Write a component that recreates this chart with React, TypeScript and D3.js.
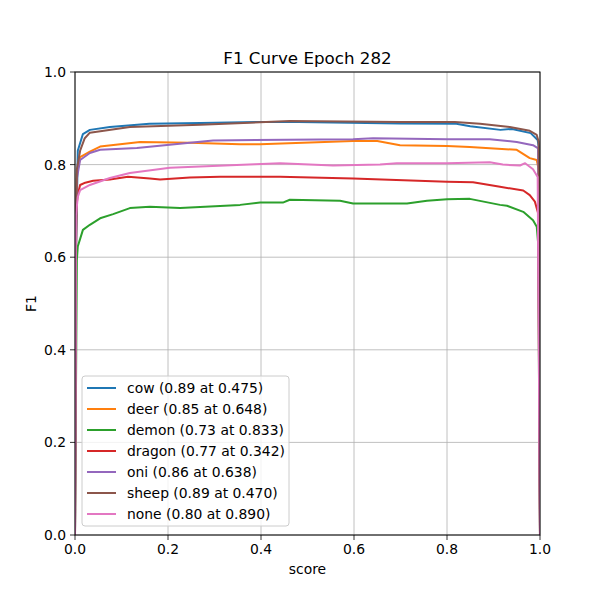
import React from "react";
import * as d3 from "d3";

// [score, F1] points
const cow: [number, number][] = [
  [0, 0], [0.002, 0.6], [0.006, 0.83], [0.017, 0.866], [0.032, 0.875], [0.075, 0.881],
  [0.16, 0.888], [0.27, 0.89], [0.4, 0.892], [0.48, 0.892], [0.7, 0.889], [0.82, 0.888],
  [0.85, 0.883], [0.915, 0.875], [0.94, 0.877], [0.98, 0.868], [0.995, 0.853], [0.997, 0.84], [1, 0],
];
const deer: [number, number][] = [
  [0, 0], [0.002, 0.6], [0.004, 0.78], [0.011, 0.816], [0.032, 0.828], [0.054, 0.839],
  [0.14, 0.849], [0.247, 0.847], [0.355, 0.844], [0.398, 0.844], [0.598, 0.851], [0.65, 0.851],
  [0.699, 0.842], [0.8, 0.84], [0.849, 0.838], [0.95, 0.832], [0.978, 0.814], [0.993, 0.81],
  [0.997, 0.79], [1, 0],
];
const demon: [number, number][] = [
  [0, 0], [0.004, 0.594], [0.006, 0.623], [0.017, 0.659], [0.032, 0.67], [0.054, 0.684],
  [0.082, 0.693], [0.118, 0.706], [0.161, 0.709], [0.226, 0.706], [0.355, 0.713], [0.398, 0.718],
  [0.447, 0.718], [0.462, 0.724], [0.57, 0.722], [0.598, 0.716], [0.714, 0.716], [0.757, 0.722],
  [0.8, 0.725], [0.849, 0.726], [0.914, 0.713], [0.929, 0.711], [0.964, 0.698], [0.985, 0.68],
  [0.993, 0.666], [0.996, 0.63], [1, 0],
];
const dragon: [number, number][] = [
  [0, 0], [0.002, 0.7], [0.006, 0.735], [0.011, 0.756], [0.022, 0.761], [0.039, 0.765],
  [0.075, 0.768], [0.114, 0.774], [0.161, 0.77], [0.183, 0.768], [0.247, 0.772], [0.312, 0.774],
  [0.441, 0.774], [0.598, 0.77], [0.8, 0.763], [0.856, 0.762], [0.914, 0.752], [0.964, 0.744],
  [0.978, 0.734], [0.989, 0.72], [0.996, 0.695], [1, 0],
];
const oni: [number, number][] = [
  [0, 0], [0.002, 0.6], [0.004, 0.77], [0.011, 0.81], [0.032, 0.825], [0.054, 0.832],
  [0.133, 0.836], [0.247, 0.847], [0.297, 0.852], [0.598, 0.855], [0.641, 0.857], [0.8, 0.855],
  [0.892, 0.855], [0.95, 0.849], [0.985, 0.842], [0.996, 0.835], [1, 0],
];
const sheep: [number, number][] = [
  [0, 0], [0.002, 0.6], [0.004, 0.79], [0.011, 0.83], [0.021, 0.857], [0.032, 0.869],
  [0.118, 0.881], [0.269, 0.886], [0.462, 0.894], [0.699, 0.892], [0.817, 0.892], [0.871, 0.888],
  [0.935, 0.881], [0.978, 0.873], [0.993, 0.864], [0.997, 0.85], [1, 0],
];
const none: [number, number][] = [
  [0, 0], [0.002, 0.69], [0.006, 0.73], [0.011, 0.745], [0.032, 0.756], [0.075, 0.771],
  [0.118, 0.782], [0.204, 0.793], [0.387, 0.801], [0.441, 0.803], [0.555, 0.798], [0.656, 0.8],
  [0.692, 0.803], [0.8, 0.803], [0.892, 0.805], [0.92, 0.8], [0.957, 0.798], [0.968, 0.803],
  [0.985, 0.79], [0.995, 0.773], [1, 0],
];

const seriesNames = ["cow", "deer", "demon", "dragon", "oni", "sheep", "none"];
const seriesData = [cow, deer, demon, dragon, oni, sheep, none];
const legendLabels = [
  "cow (0.89 at 0.475)",
  "deer (0.85 at 0.648)",
  "demon (0.73 at 0.833)",
  "dragon (0.77 at 0.342)",
  "oni (0.86 at 0.638)",
  "sheep (0.89 at 0.470)",
  "none (0.80 at 0.890)",
];
const colors = ["#1f77b4", "#ff7f0e", "#2ca02c", "#d62728", "#9467bd", "#8c564b", "#e377c2"];
const ticks = [0, 0.2, 0.4, 0.6, 0.8, 1.0];

const margin = { left: 75, right: 60, top: 72, bottom: 65 };
const W = 600;
const H = 600;

export default function App() {
  const x = d3.scaleLinear().domain([0, 1]).range([margin.left, W - margin.right]);
  const y = d3.scaleLinear().domain([0, 1]).range([H - margin.bottom, margin.top]);
  const line = d3
    .line<[number, number]>()
    .x((d) => x(d[0]))
    .y((d) => y(d[1]));

  const font = "DejaVu Sans, sans-serif";
  const legX = 82;
  const legY = 376;

  return (
    <div style={{ position: "absolute", left: 0, top: 0 }}>
      <svg width={W} height={H} style={{ display: "block", background: "#fff" }} fontFamily={font}>
        {/* grid */}
        {ticks.map((t) => (
          <g key={"g" + t}>
            <line x1={x(t)} x2={x(t)} y1={y(0)} y2={y(1)} stroke="#b0b0b0" strokeWidth={0.8} />
            <line x1={x(0)} x2={x(1)} y1={y(t)} y2={y(t)} stroke="#b0b0b0" strokeWidth={0.8} />
          </g>
        ))}
        {/* curves */}
        <g clipPath="url(#clip)">
          {seriesData.map((d, i) => (
            <path key={seriesNames[i]} d={line(d) || ""} fill="none" stroke={colors[i]} strokeWidth={2}
              strokeLinejoin="round" strokeLinecap="butt" />
          ))}
        </g>
        <defs>
          <clipPath id="clip">
            <rect x={x(0)} y={y(1)} width={x(1) - x(0)} height={y(0) - y(1)} />
          </clipPath>
        </defs>
        {/* spines */}
        <rect x={x(0)} y={y(1)} width={x(1) - x(0)} height={y(0) - y(1)} fill="none" stroke="#000" strokeWidth={1} />
        {/* ticks */}
        {ticks.map((t) => (
          <g key={"t" + t}>
            <line x1={x(t)} x2={x(t)} y1={y(0)} y2={y(0) + 5} stroke="#000" strokeWidth={0.8} />
            <text x={x(t)} y={y(0) + 19} fontSize={13.9} textAnchor="middle">{t.toFixed(1)}</text>
            <line x1={x(0) - 5} x2={x(0)} y1={y(t)} y2={y(t)} stroke="#000" strokeWidth={0.8} />
            <text x={x(0) - 9} y={y(t) + 5} fontSize={13.9} textAnchor="end">{t.toFixed(1)}</text>
          </g>
        ))}
        <text x={(x(0) + x(1)) / 2} y={64} fontSize={16.7} textAnchor="middle">F1 Curve Epoch 282</text>
        <text x={(x(0) + x(1)) / 2} y={574} fontSize={13.9} textAnchor="middle">score</text>
        <text transform={`translate(36,${(y(0) + y(1)) / 2}) rotate(-90)`} fontSize={13.9} textAnchor="middle">F1</text>
        {/* legend */}
        <rect x={legX} y={legY} width={207} height={150} rx={3} fill="#fff" fillOpacity={0.8} stroke="#cccccc" strokeWidth={1} />
        {legendLabels.map((lab, i) => (
          <g key={lab} transform={`translate(${legX}, ${legY + 12 + i * 21})`}>
            <line x1={5} x2={34} y1={0} y2={0} stroke={colors[i]} strokeWidth={2} />
            <text x={45} y={5} fontSize={13.9}>{lab}</text>
          </g>
        ))}
      </svg>
    </div>
  );
}
